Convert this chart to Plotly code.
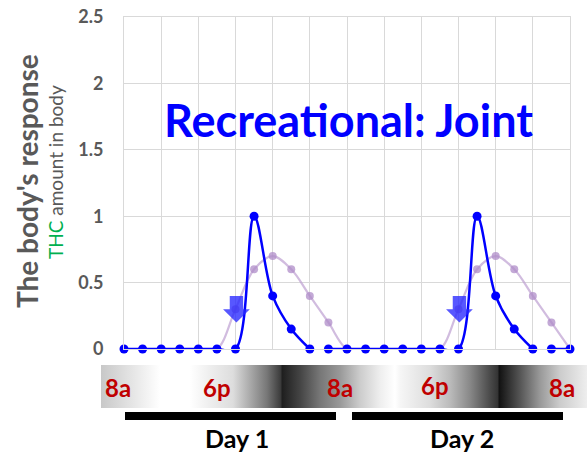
import base64
import plotly.graph_objects as go

# ---- data ----
hours = list(range(25))  # time steps (two days, 12 steps per day)
response = [0, 0, 0, 0, 0, 0, 0, 1.0, 0.4, 0.15, 0, 0, 0,
            0, 0, 0, 0, 0, 0, 1.0, 0.4, 0.15, 0, 0, 0]
thc_amount = [0, 0, 0, 0, 0, 0, 0.3, 0.6, 0.7, 0.6, 0.4, 0.2, 0,
              0, 0, 0, 0, 0, 0.3, 0.6, 0.7, 0.6, 0.4, 0.2, 0]
response_breaks = [10, 22]  # the smoothed line is not drawn right after these steps
dose_times = [6, 18]
dose_level = 0.4
y_ticks = [0, 0.5, 1, 1.5, 2, 2.5]
time_labels = ["8a", "6p", "8a", "6p", "8a"]
day_labels = ["Day 1", "Day 2"]

# ---- layout helpers (pixel geometry of the 587x454 page) ----
W, H = 587, 454
L, R, T, B = 124, 17, 17, 105
PW, PH = W - L - R, H - T - B


def px(xp):
    return (xp - L) / PW


def py(yp):
    return (H - B - yp) / PH


FONT = "Lato"
GRAY = "#595959"

# split response line at breaks
rx, ry = [], []
for xv, yv in zip(hours, response):
    rx.append(xv)
    ry.append(yv)
    if xv in response_breaks:
        rx.append(None)
        ry.append(None)

fig = go.Figure()
fig.add_trace(go.Scatter(
    x=hours, y=thc_amount, mode="lines+markers",
    line=dict(color="rgba(190,160,210,0.7)", width=2.2, shape="spline", smoothing=1),
    marker=dict(color="rgba(175,140,200,0.75)", size=8),
    cliponaxis=False, hoverinfo="skip", showlegend=False))
fig.add_trace(go.Scatter(
    x=rx, y=ry, mode="lines", connectgaps=False,
    line=dict(color="#0000FF", width=2.5, shape="spline", smoothing=1),
    cliponaxis=False, showlegend=False))
fig.add_trace(go.Scatter(
    x=hours, y=response, mode="markers",
    marker=dict(color="#0000FF", size=9),
    cliponaxis=False, showlegend=False))

# dose arrows (block arrows pointing down)
for d in dose_times:
    c = d + 0.05
    sw, hw = 0.36, 0.72
    top, neck, tip = dose_level, dose_level - 0.1, dose_level - 0.2
    path = (f"M {c-sw},{top} L {c+sw},{top} L {c+sw},{neck} L {c+hw},{neck} "
            f"L {c},{tip} L {c-hw},{neck} L {c-sw},{neck} Z")
    fig.add_shape(type="path", path=path, xref="x", yref="y",
                  fillcolor="rgba(40,40,255,0.78)", line=dict(width=0), layer="above")

# day/night gradient band
BX0, BX1 = 101, 587
stops = [(101, "#c8c8c8"), (160, "#ffffff"), (190, "#ffffff"), (210, "#eeeeee"),
         (233, "#dddddd"), (250, "#aaaaaa"), (267, "#777777"), (281, "#3a3a3a"),
         (282, "#1e1e1e"), (300, "#444444"), (320, "#777777"), (340, "#999999"),
         (360, "#cccccc"), (380, "#eeeeee"), (395, "#ffffff"), (400, "#f6f6f6"),
         (430, "#dddddd"), (450, "#bbbbbb"), (470, "#888888"), (490, "#4a4a4a"),
         (498, "#333333"), (499, "#111111"), (520, "#555555"), (540, "#999999"),
         (560, "#cccccc"), (587, "#eeeeee")]
bw = BX1 - BX0
stop_xml = "".join(f'<stop offset="{(p - BX0) / bw:.4f}" stop-color="{c}"/>' for p, c in stops)
svg = (f'<svg xmlns="http://www.w3.org/2000/svg" width="{bw}" height="43" preserveAspectRatio="none">'
       f'<defs><linearGradient id="g" x1="0" y1="0" x2="1" y2="0">{stop_xml}'
       '</linearGradient></defs>'
       f'<rect width="{bw}" height="43" fill="url(#g)"/></svg>')
src = "data:image/svg+xml;base64," + base64.b64encode(svg.encode()).decode()
fig.add_layout_image(dict(source=src, xref="paper", yref="paper",
                          x=px(BX0), y=py(365), sizex=bw / PW, sizey=43 / PH,
                          xanchor="left", yanchor="top", sizing="stretch", layer="above"))


def label(text, xp, yp, size, color, angle=0):
    fig.add_annotation(text=text, x=px(xp), y=py(yp), xref="paper", yref="paper",
                       xanchor="center", yanchor="middle", showarrow=False,
                       textangle=angle, borderpad=0,
                       font=dict(family=FONT, size=size, color=color))


tl_pos = [(118, 388), (217, 387), (340, 388), (435, 385), (562, 388)]
for lab, (xp, yp) in zip(time_labels, tl_pos):
    label(f"<b>{lab}</b>", xp, yp, 24, "#C00000")

bars = [(125, 336), (352, 563)]
day_pos = [237, 462]
for (x0, x1), lab, dx in zip(bars, day_labels, day_pos):
    fig.add_shape(type="line", xref="paper", yref="paper", x0=px(x0), x1=px(x1),
                  y0=py(416), y1=py(416), line=dict(color="black", width=8))
    label(f"<b>{lab}</b>", dx, 438, 25, "black")

# title
label("<b>Recreational: Joint</b>", 348, 120, 45, "#0000FF")

# y axis titles
label("<b>The body's response</b>", 27, 181, 28, GRAY, -90)
label("<span style='color:#00B050'>THC</span> amount in body", 55, 172, 19, GRAY, -90)

fig.update_layout(
    width=W, height=H, margin=dict(l=L, r=R, t=T, b=B, autoexpand=False),
    paper_bgcolor="white", plot_bgcolor="white", showlegend=False,
    xaxis=dict(range=[0, 24], dtick=2, tick0=0, showgrid=True, gridcolor="#D9D9D9",
               gridwidth=1, showticklabels=False, zeroline=False,
               showline=True, linecolor="#D9D9D9", mirror=True),
    yaxis=dict(range=[0, 2.5], tickvals=y_ticks, ticktext=[f"{v:g}" for v in y_ticks],
               showgrid=True, gridcolor="#D9D9D9", gridwidth=1, zeroline=True,
               zerolinecolor="#D9D9D9", showline=True, linecolor="#D9D9D9", mirror=True,
               ticks="", ticklabelstandoff=16,
               tickfont=dict(family=FONT, size=18, color=GRAY, weight="bold")),
)

fig.write_html("out.html", config={"displayModeBar": False},
               post_script="document.body.style.margin='0px';")
